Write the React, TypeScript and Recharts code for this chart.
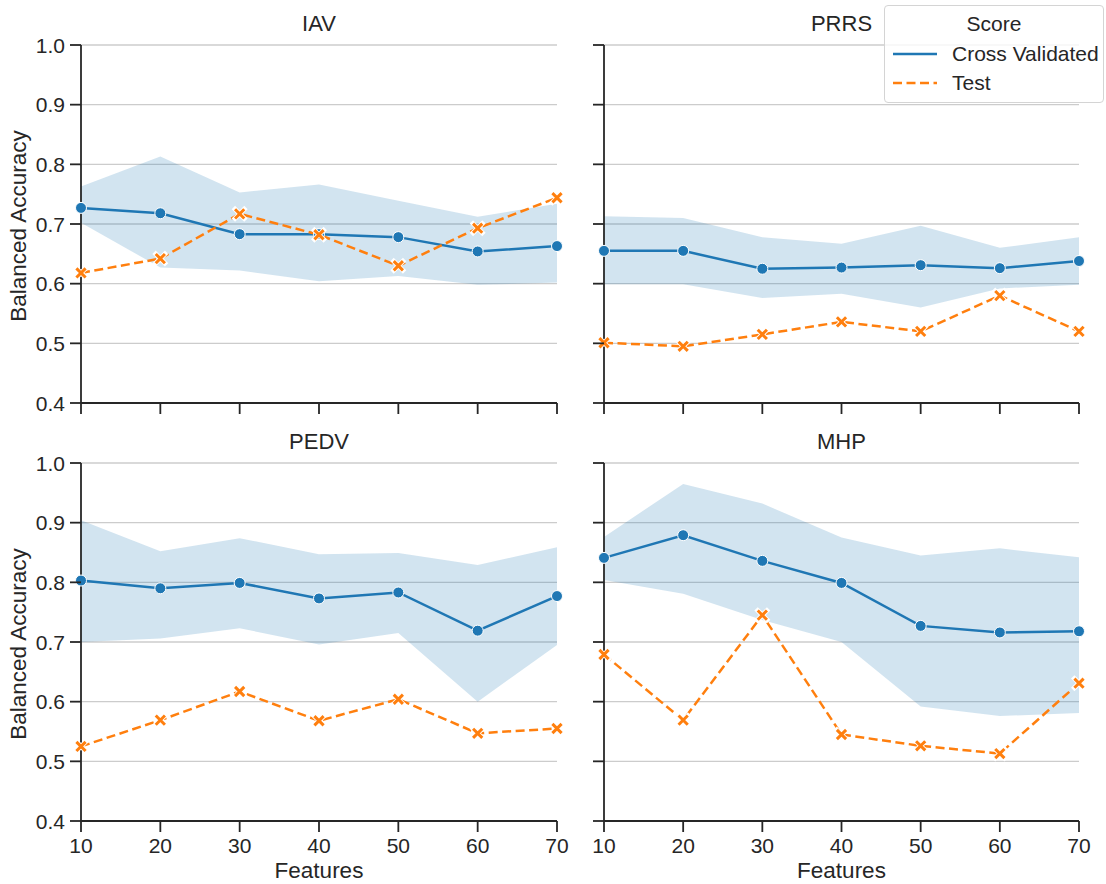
import React from "react";
import { ComposedChart, Area, Line, XAxis, YAxis, CartesianGrid, ReferenceLine } from "recharts";

const features = [10, 20, 30, 40, 50, 60, 70];
const yTicks = [0.4, 0.5, 0.6, 0.7, 0.8, 0.9, 1.0];

// IAV
const iavCv = [0.727, 0.718, 0.683, 0.683, 0.678, 0.654, 0.663];
const iavTest = [0.618, 0.642, 0.717, 0.682, 0.63, 0.693, 0.744];
const iavLo = [0.702, 0.627, 0.622, 0.604, 0.613, 0.598, 0.602];
const iavHi = [0.763, 0.813, 0.753, 0.766, 0.739, 0.712, 0.734];

// PRRS
const prrsCv = [0.655, 0.655, 0.625, 0.627, 0.631, 0.626, 0.638];
const prrsTest = [0.501, 0.495, 0.515, 0.536, 0.52, 0.58, 0.52];
const prrsLo = [0.599, 0.599, 0.576, 0.583, 0.56, 0.592, 0.598];
const prrsHi = [0.713, 0.71, 0.678, 0.667, 0.697, 0.66, 0.678];

// PEDV
const pedvCv = [0.803, 0.79, 0.799, 0.773, 0.783, 0.719, 0.777];
const pedvTest = [0.525, 0.569, 0.617, 0.568, 0.604, 0.547, 0.555];
const pedvLo = [0.7, 0.706, 0.723, 0.696, 0.715, 0.6, 0.695];
const pedvHi = [0.904, 0.852, 0.874, 0.847, 0.849, 0.829, 0.859];

// MHP
const mhpCv = [0.841, 0.879, 0.836, 0.799, 0.727, 0.716, 0.718];
const mhpTest = [0.679, 0.569, 0.745, 0.545, 0.526, 0.513, 0.631];
const mhpLo = [0.804, 0.781, 0.737, 0.7, 0.592, 0.576, 0.581];
const mhpHi = [0.876, 0.965, 0.932, 0.875, 0.845, 0.857, 0.842];

const BLUE = "#1f77b4";
const ORANGE = "#ff7f0e";
const INK = "#262626";
const FONT = "'Liberation Sans', Arial, Helvetica, sans-serif";
const FS = 21; // ticks, legend
const LABEL_FS = 22.5; // axis labels
const TITLE_FS = 22;
const TICK = 11;
const X_MARGIN = 6;
const Y_MARGIN = 5;

const CircleDot = (props: any) => {
  const { cx, cy, index } = props;
  if (cx == null || cy == null) return <g key={index} />;
  return <circle key={index} cx={cx} cy={cy} r={5.5} fill={BLUE} stroke="#fff" strokeWidth={1} />;
};

const XDot = (props: any) => {
  const { cx, cy, index } = props;
  if (cx == null || cy == null) return <g key={index} />;
  const s = 4.6;
  const d = `M${cx - s},${cy - s}L${cx + s},${cy + s}M${cx - s},${cy + s}L${cx + s},${cy - s}`;
  return (
    <g key={index}>
      <path d={d} stroke="#fff" strokeWidth={4.8} strokeLinecap="square" fill="none" />
      <path d={d} stroke={ORANGE} strokeWidth={3} strokeLinecap="butt" fill="none" />
    </g>
  );
};

// tick mark + optional label, drawn by hand so the marks show up
const YTick = (props: any) => {
  const { x, y, payload, showLabel } = props;
  const x0 = x + Y_MARGIN;
  return (
    <g>
      <line x1={x0} x2={x0 + TICK} y1={y} y2={y} stroke={INK} strokeWidth={1.8} />
      {showLabel && (
        <text x={x} y={y} textAnchor="end" dominantBaseline="central" fontSize={FS} fill={INK} fontFamily={FONT}>
          {Number(payload.value).toFixed(1)}
        </text>
      )}
    </g>
  );
};

const XTick = (props: any) => {
  const { x, y, payload, showLabel } = props;
  const y0 = y - X_MARGIN - TICK;
  return (
    <g>
      <line x1={x} x2={x} y1={y0} y2={y0 + TICK} stroke={INK} strokeWidth={1.8} />
      {showLabel && (
        <text x={x} y={y} dy="0.71em" textAnchor="middle" fontSize={FS} fill={INK} fontFamily={FONT}>
          {payload.value}
        </text>
      )}
    </g>
  );
};

type PanelProps = {
  title: string;
  cv: number[];
  test: number[];
  lo: number[];
  hi: number[];
  left: number;
  top: number;
  width: number;
  height: number;
  margin: { top: number; right: number; bottom: number; left: number };
  yAxisWidth: number;
  xAxisHeight: number;
  showYLabels: boolean;
  showXLabels: boolean;
};

const YLabel = (props: any) => {
  const { viewBox } = props;
  const cx = viewBox.x + 18;
  const cy = viewBox.y + viewBox.height / 2 + 2;
  return (
    <text
      x={cx}
      y={cy}
      transform={`rotate(-90 ${cx} ${cy})`}
      textAnchor="middle"
      dominantBaseline="central"
      fontSize={LABEL_FS}
      fill={INK}
      fontFamily={FONT}
    >
      Balanced Accuracy
    </text>
  );
};

const Panel = (p: PanelProps) => {
  const data = features.map((f, i) => ({
    f,
    cv: p.cv[i],
    test: p.test[i],
    band: [p.lo[i], p.hi[i]],
  }));
  const plotLeft = p.margin.left + p.yAxisWidth;
  const plotRight = p.width - p.margin.right;
  return (
    <div style={{ position: "absolute", left: p.left, top: p.top, width: p.width, height: p.height }}>
      <div
        style={{
          position: "absolute",
          left: plotLeft,
          width: plotRight - plotLeft,
          top: p.margin.top - 33,
          textAlign: "center",
          fontSize: TITLE_FS,
          color: INK,
          fontFamily: FONT,
          lineHeight: "24px",
        }}
      >
        {p.title}
      </div>
      <ComposedChart
        width={p.width}
        height={p.height}
        data={data}
        margin={p.margin}
        style={{ fontFamily: FONT }}
      >
        <CartesianGrid vertical={false} stroke="#cccccc" strokeWidth={1.4} />
        <XAxis
          dataKey="f"
          type="number"
          domain={[10, 70]}
          ticks={features}
          height={p.xAxisHeight}
          axisLine={false}
          tickLine={false}
          tickSize={TICK}
          tickMargin={X_MARGIN}
          tick={(t: any) => <XTick {...t} showLabel={p.showXLabels} />}
          label={
            p.showXLabels
              ? { value: "Features", position: "insideBottom", offset: 3, fill: INK, fontSize: LABEL_FS }
              : undefined
          }
        />
        <YAxis
          type="number"
          domain={[0.4, 1.0]}
          ticks={yTicks}
          width={p.yAxisWidth}
          axisLine={false}
          tickLine={false}
          tickSize={TICK}
          tickMargin={Y_MARGIN}
          tick={(t: any) => <YTick {...t} showLabel={p.showYLabels} />}
          label={p.showYLabels ? <YLabel /> : undefined}
        />
        <Area
          dataKey="band"
          type="linear"
          stroke="none"
          fill={BLUE}
          fillOpacity={0.2}
          isAnimationActive={false}
          activeDot={false}
        />
        <ReferenceLine x={10} stroke={INK} strokeWidth={1.8} />
        <ReferenceLine y={0.4} stroke={INK} strokeWidth={1.8} />
        <Line
          dataKey="cv"
          type="linear"
          stroke={BLUE}
          strokeWidth={2.5}
          dot={CircleDot}
          activeDot={false}
          isAnimationActive={false}
        />
        <Line
          dataKey="test"
          type="linear"
          stroke={ORANGE}
          strokeWidth={2.5}
          strokeDasharray="9 4.5"
          dot={XDot}
          activeDot={false}
          isAnimationActive={false}
        />
      </ComposedChart>
    </div>
  );
};

const Legend = () => (
  <div
    style={{
      position: "absolute",
      left: 884,
      top: 5,
      width: 218,
      height: 96,
      border: "1px solid #d4d4d4",
      borderRadius: 4,
      background: "rgba(255,255,255,0.8)",
      fontFamily: FONT,
      color: INK,
      fontSize: FS,
    }}
  >
    <div style={{ position: "absolute", left: 0, right: 0, top: 6, textAlign: "center", lineHeight: "24px" }}>
      Score
    </div>
    <svg style={{ position: "absolute", left: 0, top: 0 }} width={218} height={96}>
      <line x1={8} x2={52} y1={48} y2={48} stroke={BLUE} strokeWidth={2.5} />
      <line x1={8} x2={52} y1={77} y2={77} stroke={ORANGE} strokeWidth={2.5} strokeDasharray="9 4.5" />
    </svg>
    <div style={{ position: "absolute", left: 67, top: 36, lineHeight: "24px" }}>Cross Validated</div>
    <div style={{ position: "absolute", left: 67, top: 65, lineHeight: "24px" }}>Test</div>
  </div>
);

const App = () => (
  <div
    style={{
      position: "absolute",
      left: 0,
      top: 0,
      width: 1106,
      height: 884,
      background: "#fff",
      overflow: "hidden",
    }}
  >
    <Panel
      title="IAV"
      cv={iavCv}
      test={iavTest}
      lo={iavLo}
      hi={iavHi}
      left={0}
      top={0}
      width={580}
      height={420}
      margin={{ top: 45, right: 23, bottom: 0, left: 0 }}
      yAxisWidth={81}
      xAxisHeight={17}
      showYLabels
      showXLabels={false}
    />
    <Panel
      title="PRRS"
      cv={prrsCv}
      test={prrsTest}
      lo={prrsLo}
      hi={prrsHi}
      left={580}
      top={0}
      width={526}
      height={420}
      margin={{ top: 45, right: 27, bottom: 0, left: 0 }}
      yAxisWidth={24}
      xAxisHeight={17}
      showYLabels={false}
      showXLabels={false}
    />
    <Panel
      title="PEDV"
      cv={pedvCv}
      test={pedvTest}
      lo={pedvLo}
      hi={pedvHi}
      left={0}
      top={420}
      width={580}
      height={464}
      margin={{ top: 43, right: 23, bottom: 3, left: 0 }}
      yAxisWidth={81}
      xAxisHeight={60}
      showYLabels
      showXLabels
    />
    <Panel
      title="MHP"
      cv={mhpCv}
      test={mhpTest}
      lo={mhpLo}
      hi={mhpHi}
      left={580}
      top={420}
      width={526}
      height={464}
      margin={{ top: 43, right: 27, bottom: 3, left: 0 }}
      yAxisWidth={24}
      xAxisHeight={60}
      showYLabels={false}
      showXLabels
    />
    <Legend />
  </div>
);

export default App;
